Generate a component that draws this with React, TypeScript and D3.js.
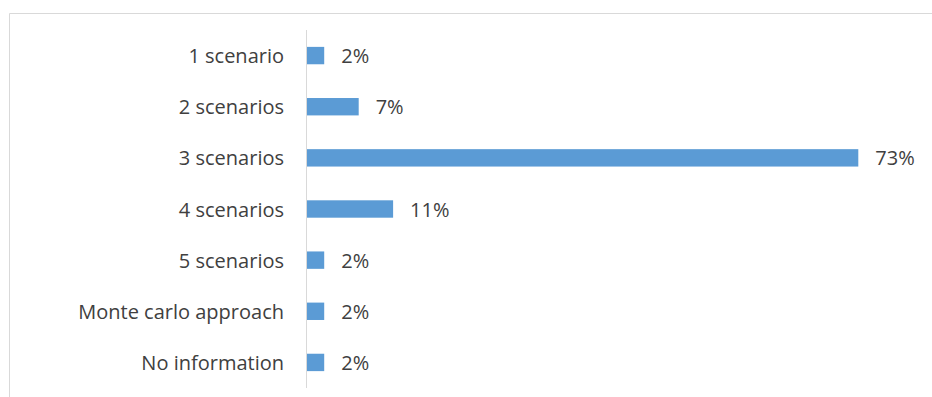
import React from "react";
import * as d3 from "d3";

const categories = ["1 scenario", "2 scenarios", "3 scenarios", "4 scenarios", "5 scenarios", "Monte carlo approach", "No information"];
const values = [2.27, 6.82, 72.73, 11.36, 2.27, 2.27, 2.27];
const valueLabels = ["2%", "7%", "73%", "11%", "2%", "2%", "2%"];

const W = 932, H = 397;
const axisX = 306.5;
const font = "'Open Sans', sans-serif";

export default function App() {
  const y = d3.scaleBand<string>().domain(categories).range([30, 388]).paddingInner(0.66).paddingOuter(0.33);
  const x = d3.scaleLinear().domain([0, 72.73]).range([axisX + 0.5, 858.3]);
  return (
    <svg width={W} height={H} style={{ position: "absolute", left: 0, top: 0 }}>
      <rect x={0} y={0} width={W} height={H} fill="#fff" />
      <line x1={9.5} x2={W} y1={13.5} y2={13.5} stroke="#d9d9d9" />
      <line x1={9.5} x2={9.5} y1={13.5} y2={H} stroke="#d9d9d9" />
      {categories.map((c, i) => {
        const yc = (y(c) as number) + y.bandwidth() / 2;
        return (
          <g key={c}>
            <rect x={x(0)} y={y(c)} width={x(values[i]) - x(0)} height={y.bandwidth()} fill="#5b9bd5" />
            <text x={284} y={yc} textAnchor="end" dominantBaseline="central" fontFamily={font} fontSize={20} fill="#404040">{c}</text>
            <text x={x(values[i]) + 17} y={yc} dominantBaseline="central" fontFamily={font} fontSize={20} fill="#404040">{valueLabels[i]}</text>
          </g>
        );
      })}
      <line x1={axisX} x2={axisX} y1={30} y2={388} stroke="#d9d9d9" />
    </svg>
  );
}
